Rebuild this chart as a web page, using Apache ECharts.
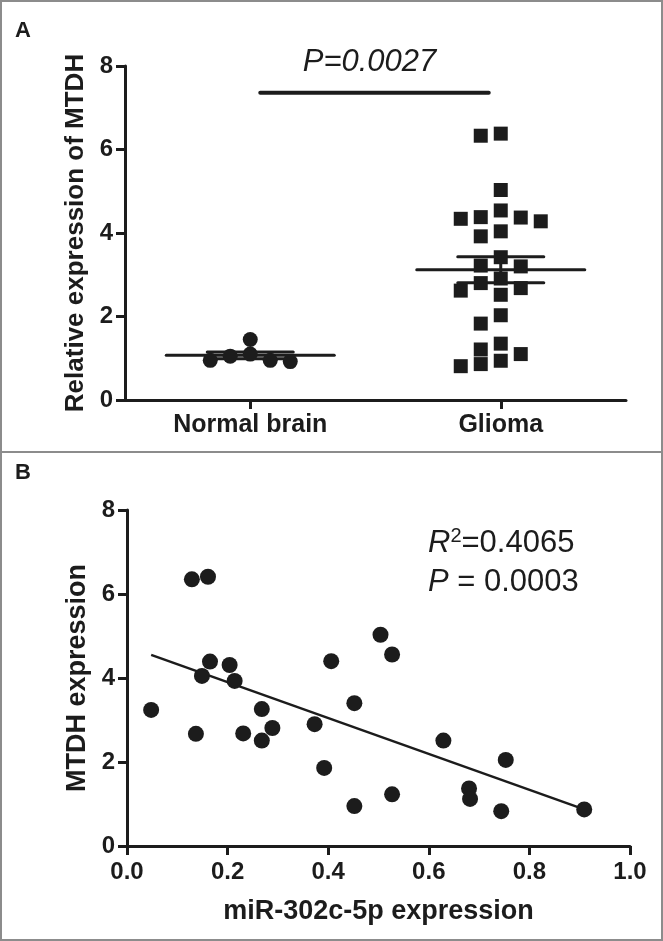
<!DOCTYPE html>
<html><head><meta charset="utf-8">
<script src="https://cdn.jsdelivr.net/npm/echarts@6/dist/echarts.min.js"></script>
<style>html,body{margin:0;padding:0;background:#fff}#c{width:663px;height:941px}</style>
</head><body><div id="c"></div>
<script>
// ---------- Panel A data ----------
const categoriesA = ['Normal brain', 'Glioma'];
const normalBrain = [1.45, 1.10, 1.05, 0.95, 0.95, 0.92];
const glioma = [6.38, 6.33, 5.03, 4.54, 4.38, 4.37, 4.34, 4.28, 4.04, 3.92, 3.42, 3.22, 3.20,
                2.91, 2.80, 2.68, 2.62, 2.52, 2.03, 1.83, 1.35, 1.21, 1.10, 0.94, 0.86, 0.81];
const yTicksA = [0, 2, 4, 6, 8];
const pLabelA = 'P=0.0027';
const sigBarLevelA = 7.36;
const yTitleA = 'Relative expression of MTDH';

// ---------- Panel B data ----------
const mir302 = [0.048, 0.129, 0.161, 0.137, 0.149, 0.165, 0.204, 0.214, 0.231, 0.268, 0.268, 0.289, 0.373,
                0.392, 0.406, 0.452, 0.452, 0.504, 0.527, 0.527, 0.629, 0.680, 0.682, 0.744, 0.753, 0.909];
const mtdh   = [3.24, 6.35, 6.41, 2.67, 4.05, 4.39, 4.31, 3.93, 2.68, 3.26, 2.51, 2.81, 2.90,
                1.86, 4.40, 3.40, 0.95, 5.03, 4.56, 1.23, 2.51, 1.37, 1.12, 0.83, 2.05, 0.87];
const xTicksB = [0.0, 0.2, 0.4, 0.6, 0.8, 1.0];
const yTicksB = [0, 2, 4, 6, 8];
const r2Value = '0.4065';
const pValueB = '0.0003';
const xTitleB = 'miR-302c-5p expression';
const yTitleB = 'MTDH expression';

// ---------- helpers ----------
const INK = '#1c1c1c';
const FONT = '"Liberation Sans", Arial, sans-serif';

function swarmLanes(values, threshold) {
  const order = [0, -1, 1, -2, 2, -3, 3, -4, 4];
  const placed = {};
  const lanes = new Array(values.length);
  values.map((v, i) => ({v, i})).sort((a, b) => b.v - a.v).forEach(p => {
    for (const l of order) {
      const arr = placed[l] || (placed[l] = []);
      if (arr.every(u => Math.abs(u - p.v) >= threshold)) { arr.push(p.v); lanes[p.i] = l; break; }
    }
  });
  return lanes;
}
function stats(values) {
  const n = values.length;
  const mean = values.reduce((s, v) => s + v, 0) / n;
  const sd = Math.sqrt(values.reduce((s, v) => s + (v - mean) * (v - mean), 0) / (n - 1));
  return {mean, sem: sd / Math.sqrt(n)};
}
function linFit(xs, ys) {
  const n = xs.length;
  const mx = xs.reduce((s, v) => s + v, 0) / n, my = ys.reduce((s, v) => s + v, 0) / n;
  let sxy = 0, sxx = 0;
  for (let i = 0; i < n; i++) { sxy += (xs[i] - mx) * (ys[i] - my); sxx += (xs[i] - mx) ** 2; }
  const b = sxy / sxx; return {a: my - b * mx, b};
}

// layout
const gridA = {left: 125, top: 66, width: 501, height: 334};
const gridB = {left: 127, top: 510, width: 503, height: 336};
const laneStep = 20 / (gridA.width / 2);   // 20px per lane in x-units
const swarmThreshold = 0.3;

const groups = [normalBrain, glioma];
const swarmData = groups.map((vals, gi) => {
  const lanes = swarmLanes(vals, swarmThreshold);
  return vals.map((v, i) => [gi + 0.5 + lanes[i] * laneStep, v]);
});
const statData = groups.map((vals, gi) => { const s = stats(vals); return [gi + 0.5, s.mean, s.mean - s.sem, s.mean + s.sem]; });

const fit = linFit(mir302, mtdh);
const xMin = Math.min(...mir302), xMax = Math.max(...mir302);
const fitLine = [[xMin, fit.a + fit.b * xMin], [xMax, fit.a + fit.b * xMax]];
const scatterB = mir302.map((x, i) => [x, mtdh[i]]);

const axisLineStyle = {color: INK, width: 3};
const tickLabel = {color: INK, fontSize: 24, fontWeight: 'bold', fontFamily: FONT};
const titleStyle = {color: INK, fontSize: 26, fontWeight: 'bold', fontFamily: FONT};

const chart = echarts.init(document.getElementById('c'), null, {renderer: 'canvas'});
chart.setOption({
  animation: false,
  backgroundColor: '#fff',
  grid: [
    Object.assign({containLabel: false}, gridA),
    Object.assign({containLabel: false}, gridB)
  ],
  xAxis: [
    {
      gridIndex: 0, type: 'value', min: 0, max: categoriesA.length,
      axisLine: {show: true, onZero: false, lineStyle: axisLineStyle},
      axisTick: {show: true, customValues: categoriesA.map((c, i) => i + 0.5), length: 9, lineStyle: {color: INK, width: 3}},
      axisLabel: {customValues: categoriesA.map((c, i) => i + 0.5), margin: 13, fontSize: 25,
        formatter: v => categoriesA[Math.round(v - 0.5)], color: INK, fontWeight: 'bold', fontFamily: FONT},
      splitLine: {show: false}
    },
    {
      gridIndex: 1, type: 'value', min: xTicksB[0], max: xTicksB[xTicksB.length - 1], interval: 0.2,
      axisLine: {show: true, onZero: false, lineStyle: axisLineStyle},
      axisTick: {show: true, length: 9, lineStyle: {color: INK, width: 3}},
      axisLabel: Object.assign({margin: 14, formatter: v => v.toFixed(1)}, tickLabel),
      splitLine: {show: false},
      name: xTitleB, nameLocation: 'middle', nameGap: 52, nameTextStyle: Object.assign({}, titleStyle, {fontSize: 27})
    }
  ],
  yAxis: [
    {
      gridIndex: 0, type: 'value', min: yTicksA[0], max: yTicksA[yTicksA.length - 1], interval: yTicksA[1] - yTicksA[0],
      axisLine: {show: true, onZero: false, lineStyle: axisLineStyle},
      axisTick: {show: true, length: 9, lineStyle: {color: INK, width: 3}},
      axisLabel: Object.assign({margin: 12}, tickLabel),
      splitLine: {show: false},
      name: yTitleA, nameLocation: 'middle', nameGap: 34, nameTextStyle: titleStyle
    },
    {
      gridIndex: 1, type: 'value', min: yTicksB[0], max: yTicksB[yTicksB.length - 1], interval: yTicksB[1] - yTicksB[0],
      axisLine: {show: true, onZero: false, lineStyle: axisLineStyle},
      axisTick: {show: true, length: 9, lineStyle: {color: INK, width: 3}},
      axisLabel: Object.assign({margin: 12}, tickLabel),
      splitLine: {show: false},
      name: yTitleB, nameLocation: 'middle', nameGap: 36, nameTextStyle: Object.assign({}, titleStyle, {fontSize: 27})
    }
  ],
  series: [
    {type: 'scatter', xAxisIndex: 0, yAxisIndex: 0, data: swarmData[0], symbol: 'circle', symbolSize: 15,
     itemStyle: {color: INK, opacity: 1}, z: 2},
    {type: 'scatter', xAxisIndex: 0, yAxisIndex: 0, data: swarmData[1], symbol: 'rect', symbolSize: 14,
     itemStyle: {color: INK, opacity: 1}, z: 2},
    {
      type: 'custom', xAxisIndex: 0, yAxisIndex: 0, data: statData, z: 5,
      renderItem: (params, api) => {
        const c = api.coord([api.value(0), api.value(1)]);
        const lo = api.coord([api.value(0), api.value(2)]);
        const hi = api.coord([api.value(0), api.value(3)]);
        const st = {stroke: INK, lineWidth: 3, lineCap: 'round'};
        return {type: 'group', children: [
          {type: 'line', shape: {x1: c[0], y1: lo[1], x2: c[0], y2: hi[1]}, style: st},
          {type: 'line', shape: {x1: c[0] - 84, y1: c[1], x2: c[0] + 84, y2: c[1]}, style: st},
          {type: 'line', shape: {x1: c[0] - 43, y1: lo[1], x2: c[0] + 43, y2: lo[1]}, style: st},
          {type: 'line', shape: {x1: c[0] - 43, y1: hi[1], x2: c[0] + 43, y2: hi[1]}, style: st}
        ]};
      }
    },
    {
      type: 'custom', xAxisIndex: 0, yAxisIndex: 0, data: [[0.5, 1.5, sigBarLevelA]], z: 5,
      renderItem: (params, api) => {
        const a = api.coord([api.value(0), api.value(2)]);
        const b = api.coord([api.value(1), api.value(2)]);
        const x1 = a[0] + 10, x2 = b[0] - 12;
        return {type: 'group', children: [
          {type: 'line', shape: {x1, y1: a[1], x2, y2: a[1]}, style: {stroke: INK, lineWidth: 4, lineCap: 'round'}},
          {type: 'text', x: (x1 + x2) / 2 - 5, y: a[1] - 15,
           style: {text: pLabelA, fill: INK, font: 'italic 31px ' + FONT, align: 'center', verticalAlign: 'bottom'}}
        ]};
      }
    },
    {type: 'scatter', xAxisIndex: 1, yAxisIndex: 1, data: scatterB, symbol: 'circle', symbolSize: 16,
     itemStyle: {color: INK, opacity: 1}, z: 3},
    {type: 'line', xAxisIndex: 1, yAxisIndex: 1, data: fitLine, symbol: 'none',
     lineStyle: {color: INK, width: 2.5}, z: 2}
  ],
  graphic: [
    {type: 'rect', shape: {x: 1, y: 1, width: 661, height: 939}, style: {fill: 'none', stroke: '#8c8c8c', lineWidth: 2}, silent: true},
    {type: 'line', shape: {x1: 0, y1: 452, x2: 663, y2: 452}, style: {stroke: '#8c8c8c', lineWidth: 2}, silent: true},
    {type: 'text', left: 15, top: 20, style: {text: 'A', fill: INK, font: 'bold 22px ' + FONT}},
    {type: 'text', left: 15, top: 462, style: {text: 'B', fill: INK, font: 'bold 22px ' + FONT}},
    {type: 'text', left: 428, top: 526, style: {
      text: '{i|R}{s|2}{n|=' + r2Value + '}',
      rich: {
        i: {font: 'italic 31px ' + FONT, fill: INK, lineHeight: 34},
        s: {font: '20px ' + FONT, fill: INK, verticalAlign: 'top', lineHeight: 34, padding: [0, 0, 12, 0]},
        n: {font: '31px ' + FONT, fill: INK, lineHeight: 34}
      }}},
    {type: 'text', left: 428, top: 567, style: {
      text: '{i|P}{n| = ' + pValueB + '}',
      rich: {
        i: {font: 'italic 31px ' + FONT, fill: INK, lineHeight: 34},
        n: {font: '31px ' + FONT, fill: INK, lineHeight: 34}
      }}}
  ]
});
</script>
</body></html>
